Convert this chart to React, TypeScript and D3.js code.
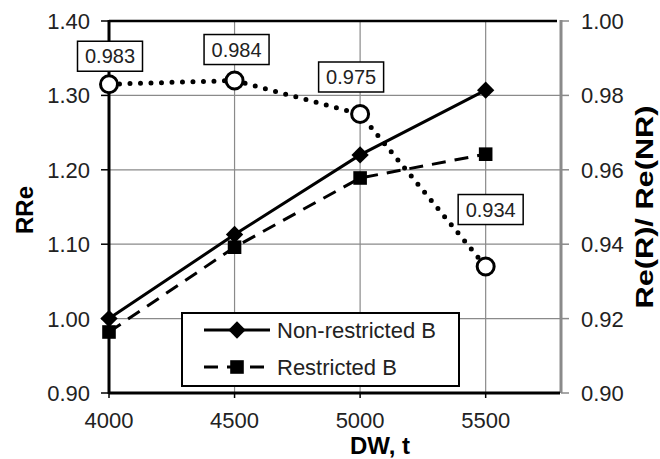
import React, { useRef, useEffect } from "react";
import * as d3 from "d3";

// DW, t
const dw = [4000, 4500, 5000, 5500];
// RRe (left axis)
const nonRestricted = [1.0, 1.113, 1.22, 1.307];
const restricted = [0.982, 1.096, 1.189, 1.221];
// Re(R)/ Re(NR) (right axis)
const ratio = [0.983, 0.984, 0.975, 0.934];

const xTicks = [4000, 4500, 5000, 5500];
const leftTicks = [0.9, 1.0, 1.1, 1.2, 1.3, 1.4];
const rightTicks = [0.9, 0.92, 0.94, 0.96, 0.98, 1.0];

const seriesNames = ["Non-restricted B", "Restricted B"];

// where the data-label boxes sit relative to their point (layout only)
const labelShift = [[1, -28], [2, -31], [-9, -37], [5, -57]];

export default function App() {
  const svgRef = useRef<SVGSVGElement>(null);

  useEffect(() => {
    document.body.style.margin = "0";
    const W = 660, H = 459;
    const svg = d3.select(svgRef.current).attr("width", W).attr("height", H);
    svg.selectAll("*").remove();

    const left = 109, right = 561, top = 21, bottom = 393;
    const font = "Liberation Sans, Arial, sans-serif";

    const x = d3.scaleLinear().domain([4000, 5800]).range([left, right]);
    const yL = d3.scaleLinear().domain([0.9, 1.4]).range([bottom, top]);
    const yR = d3.scaleLinear().domain([0.9, 1.0]).range([bottom, top]);

    svg.append("rect").attr("width", W).attr("height", H).attr("fill", "#fff");

    const grid = "#8a8a8a";
    // horizontal grid
    svg.append("g").selectAll("line").data(leftTicks.slice(1, -1)).join("line")
      .attr("x1", left).attr("x2", right).attr("y1", (d) => yL(d)).attr("y2", (d) => yL(d))
      .attr("stroke", grid).attr("stroke-width", 1.2);
    // vertical grid
    svg.append("g").selectAll("line").data(xTicks.slice(1)).join("line")
      .attr("x1", (d) => x(d)).attr("x2", (d) => x(d)).attr("y1", top).attr("y2", bottom)
      .attr("stroke", grid).attr("stroke-width", 1.2);

    // right axis (gray)
    svg.append("line").attr("x1", right).attr("x2", right).attr("y1", top - 1).attr("y2", bottom)
      .attr("stroke", "#8a8a8a").attr("stroke-width", 3);
    svg.append("g").selectAll("line").data(rightTicks).join("line")
      .attr("x1", right).attr("x2", right + 8).attr("y1", (d) => yR(d)).attr("y2", (d) => yR(d))
      .attr("stroke", "#8a8a8a").attr("stroke-width", 1.5);
    svg.append("g").selectAll("text").data(rightTicks).join("text")
      .attr("x", 581).attr("y", (d) => yR(d)).attr("dy", "0.36em")
      .attr("font-family", font).attr("font-size", 22).attr("fill", "#222")
      .text((d) => d3.format(".2f")(d));

    // top border, bottom & left axes
    svg.append("line").attr("x1", left).attr("x2", right - 4).attr("y1", top).attr("y2", top)
      .attr("stroke", "#000").attr("stroke-width", 2.5);
    svg.append("line").attr("x1", left).attr("x2", right - 1).attr("y1", bottom).attr("y2", bottom)
      .attr("stroke", "#000").attr("stroke-width", 3);
    svg.append("line").attr("x1", left).attr("x2", left).attr("y1", top - 1).attr("y2", bottom + 1)
      .attr("stroke", "#000").attr("stroke-width", 3);

    // left ticks + labels
    svg.append("g").selectAll("line").data(leftTicks).join("line")
      .attr("x1", left - 8).attr("x2", left).attr("y1", (d) => yL(d)).attr("y2", (d) => yL(d))
      .attr("stroke", "#000").attr("stroke-width", 1.5);
    svg.append("g").selectAll("text").data(leftTicks).join("text")
      .attr("x", 90).attr("y", (d) => yL(d)).attr("dy", "0.36em").attr("text-anchor", "end")
      .attr("font-family", font).attr("font-size", 22).attr("fill", "#222")
      .text((d) => d3.format(".2f")(d));

    // bottom ticks + labels
    svg.append("g").selectAll("line").data(xTicks).join("line")
      .attr("x1", (d) => x(d)).attr("x2", (d) => x(d)).attr("y1", bottom).attr("y2", bottom + 5)
      .attr("stroke", "#000").attr("stroke-width", 1.5);
    svg.append("g").selectAll("text").data(xTicks).join("text")
      .attr("x", (d) => x(d)).attr("y", 428).attr("text-anchor", "middle")
      .attr("font-family", font).attr("font-size", 22).attr("fill", "#222")
      .text((d) => d);

    // axis titles
    svg.append("text").attr("x", 380).attr("y", 454).attr("text-anchor", "middle")
      .attr("font-family", font).attr("font-size", 24).attr("font-weight", "bold").text("DW, t");
    svg.append("text").attr("transform", "translate(33,210) rotate(-90)").attr("text-anchor", "middle")
      .attr("font-family", font).attr("font-size", 24).attr("font-weight", "bold").text("RRe");
    svg.append("text").attr("transform", "translate(653,207) rotate(-90)").attr("text-anchor", "middle")
      .attr("font-family", font).attr("font-size", 23).attr("font-weight", "bold")
      .attr("textLength", 203).attr("lengthAdjust", "spacingAndGlyphs").text("Re(R)/ Re(NR)");

    const rowsN = dw.map((d, i) => [x(d), yL(nonRestricted[i])] as [number, number]);
    const rowsR = dw.map((d, i) => [x(d), yL(restricted[i])] as [number, number]);
    const rowsQ = dw.map((d, i) => [x(d), yR(ratio[i])] as [number, number]);
    const line = d3.line();

    const diamond = d3.symbol(d3.symbolSquare, 150)();
    const square = d3.symbol(d3.symbolSquare, 185)();

    // restricted (dashed)
    svg.append("path").attr("d", line(rowsR)).attr("fill", "none").attr("stroke", "#000")
      .attr("stroke-width", 3).attr("stroke-dasharray", "14,9");
    svg.append("g").selectAll("path").data(rowsR).join("path")
      .attr("d", square).attr("transform", (d) => `translate(${d[0]},${d[1]})`).attr("fill", "#000");

    // non-restricted (solid)
    svg.append("path").attr("d", line(rowsN)).attr("fill", "none").attr("stroke", "#000").attr("stroke-width", 3);
    svg.append("g").selectAll("path").data(rowsN).join("path")
      .attr("d", diamond).attr("transform", (d) => `translate(${d[0]},${d[1]}) rotate(45)`).attr("fill", "#000");

    // ratio (dotted, open circles)
    svg.append("path").attr("d", line(rowsQ)).attr("fill", "none").attr("stroke", "#000")
      .attr("stroke-width", 5).attr("stroke-linecap", "round").attr("stroke-dasharray", "0,10.5");
    svg.append("g").selectAll("circle").data(rowsQ).join("circle")
      .attr("cx", (d) => d[0]).attr("cy", (d) => d[1]).attr("r", 8.5)
      .attr("fill", "#fff").attr("stroke", "#000").attr("stroke-width", 3);

    // data labels
    const lab = svg.append("g").selectAll("g").data(rowsQ).join("g")
      .attr("transform", (d, i) => `translate(${d[0] + labelShift[i][0]},${d[1] + labelShift[i][1]})`);
    lab.append("rect").attr("x", -32.5).attr("y", -15).attr("width", 65).attr("height", 30)
      .attr("fill", "#fff").attr("stroke", "#000").attr("stroke-width", 1.5);
    lab.append("text").attr("text-anchor", "middle").attr("dy", "0.36em")
      .attr("font-family", font).attr("font-size", 20).attr("fill", "#222")
      .text((d, i) => d3.format(".3f")(ratio[i]));

    // legend
    const lg = svg.append("g");
    lg.append("rect").attr("x", 182).attr("y", 313).attr("width", 277).attr("height", 73)
      .attr("fill", "#fff").attr("stroke", "#000").attr("stroke-width", 2);
    const ly = [330, 367];
    lg.append("line").attr("x1", 204).attr("x2", 270).attr("y1", ly[0]).attr("y2", ly[0])
      .attr("stroke", "#000").attr("stroke-width", 3);
    lg.append("path").attr("d", diamond).attr("transform", `translate(237,${ly[0]}) rotate(45)`);
    lg.append("line").attr("x1", 204).attr("x2", 270).attr("y1", ly[1]).attr("y2", ly[1])
      .attr("stroke", "#000").attr("stroke-width", 3).attr("stroke-dasharray", "14,9");
    lg.append("path").attr("d", square).attr("transform", `translate(237,${ly[1]})`);
    lg.selectAll("text").data(seriesNames).join("text")
      .attr("x", 277).attr("y", (d, i) => ly[i]).attr("dy", "0.36em")
      .attr("font-family", font).attr("font-size", 22).attr("fill", "#222")
      .text((d) => d);
  }, []);

  return <svg ref={svgRef} style={{ display: "block" }} />;
}
